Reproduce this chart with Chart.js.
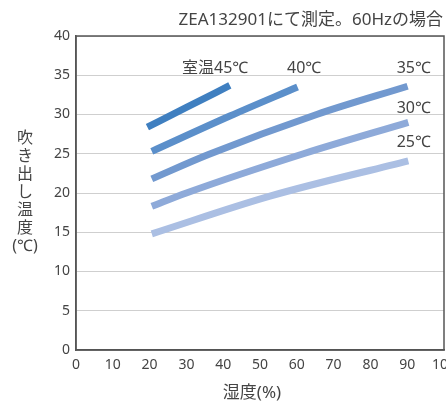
<!DOCTYPE html>
<html>
<head>
<meta charset="utf-8">
<script src="https://cdn.jsdelivr.net/npm/chart.js@4/dist/chart.umd.min.js"></script>
<style>
 html,body{margin:0;padding:0;background:#fff;}
 #wrap{width:446px;height:402px;position:relative;}
</style>
</head>
<body>
<div id="wrap"><canvas id="c" width="446" height="402"></canvas></div>
<script>
// humidity (%) / outlet temperature (℃)
const hum45=[19.4,30,41.8];
const temp45=[28.4,30.9,33.7];
const hum40=[20.6,41.8,60.2];
const temp40=[25.3,29.8,33.5];
const hum35=[20.6,36,65.4,90.1];
const temp35=[21.8,24.9,30,33.6];
const hum30=[20.6,30,61.8,90.3];
const temp30=[18.3,20,25,29];
const hum25=[20.6,52.7,90.3];
const temp25=[14.8,19.6,24.1];

const seriesNames=["室温45℃","40℃","35℃","30℃","25℃"];
const xTicks=[0,10,20,30,40,50,60,70,80,90,100];
const yTicks=[0,5,10,15,20,25,30,35,40];

// where each curve label sits, in data units
const labelX=[37.8,62,91.8,91.8,91.8];
const labelY=[35.9,35.9,35.9,30.8,26.4];

const titleText="ZEA132901にて測定。60Hzの場合";
const xTitle="湿度(%)";
const yTitle=["吹","き","出","し","温","度","(℃)"];

const colors=["#3f7fc0","#5b8fca","#7299cf","#8eaad9","#abbfe3"];
const FONT='"Noto Sans","Noto Sans CJK JP",sans-serif';
const TXT="#444";

const pts=(xs,ys)=>xs.map((x,i)=>({x:x,y:ys[i]}));
const series=[pts(hum45,temp45),pts(hum40,temp40),pts(hum35,temp35),pts(hum30,temp30),pts(hum25,temp25)];

const textPlugin={
 id:"texts",
 afterDraw(chart){
   const ctx=chart.ctx, a=chart.chartArea;
   const xs=chart.scales.x, ys=chart.scales.y;
   ctx.save();
   // frame on top and right
   ctx.strokeStyle="#555";
   ctx.lineWidth=1.5;
   ctx.strokeRect(a.left,a.top,a.right-a.left,a.bottom-a.top);

   ctx.fillStyle=TXT;
   ctx.textBaseline="middle";
   ctx.font="17px "+FONT;
   ctx.textAlign="right";
   ctx.fillText(titleText,443,20);

   ctx.font="16px "+FONT;
   ctx.textAlign="center";
   seriesNames.forEach((n,i)=>{
     ctx.fillText(n,xs.getPixelForValue(labelX[i]),ys.getPixelForValue(labelY[i]));
   });

   ctx.font="17px "+FONT;
   ctx.fillText(xTitle,252,393);
   ctx.font="16px "+FONT;
   yTitle.forEach((t,i)=>ctx.fillText(t,25,138+i*18));
   ctx.restore();
 }
};

new Chart(document.getElementById("c"),{
 type:"line",
 data:{
   datasets:series.map((d,i)=>({
     label:seriesNames[i],
     data:d,
     borderColor:colors[i],
     borderWidth:7,
     borderCapStyle:"butt",
     pointRadius:0,
     cubicInterpolationMode:"monotone",
     fill:false
   }))
 },
 options:{
   responsive:false,
   animation:false,
   layout:{padding:{top:36,right:2,left:0,bottom:0}},
   plugins:{legend:{display:false},tooltip:{enabled:false}},
   scales:{
     x:{
       type:"linear",min:0,max:100,
       afterBuildTicks(s){s.ticks=xTicks.map(v=>({value:v}));},
       afterFit(s){s.height=52;s.paddingLeft=0;s.paddingRight=0;},
       grid:{display:false,drawTicks:false},
       border:{color:"#555",width:1.5},
       ticks:{color:TXT,font:{size:14,family:FONT},padding:7,maxRotation:0,autoSkip:false}
     },
     y:{
       min:0,max:40,
       afterBuildTicks(s){s.ticks=yTicks.map(v=>({value:v}));},
       afterFit(s){s.width=76;s.paddingTop=0;s.paddingBottom=0;},
       grid:{color:"#cfcfcf",lineWidth:1,drawTicks:false},
       border:{color:"#555",width:1.5},
       ticks:{color:TXT,font:{size:14,family:FONT},padding:6}
     }
   }
 },
 plugins:[textPlugin]
});
</script>
</body>
</html>
